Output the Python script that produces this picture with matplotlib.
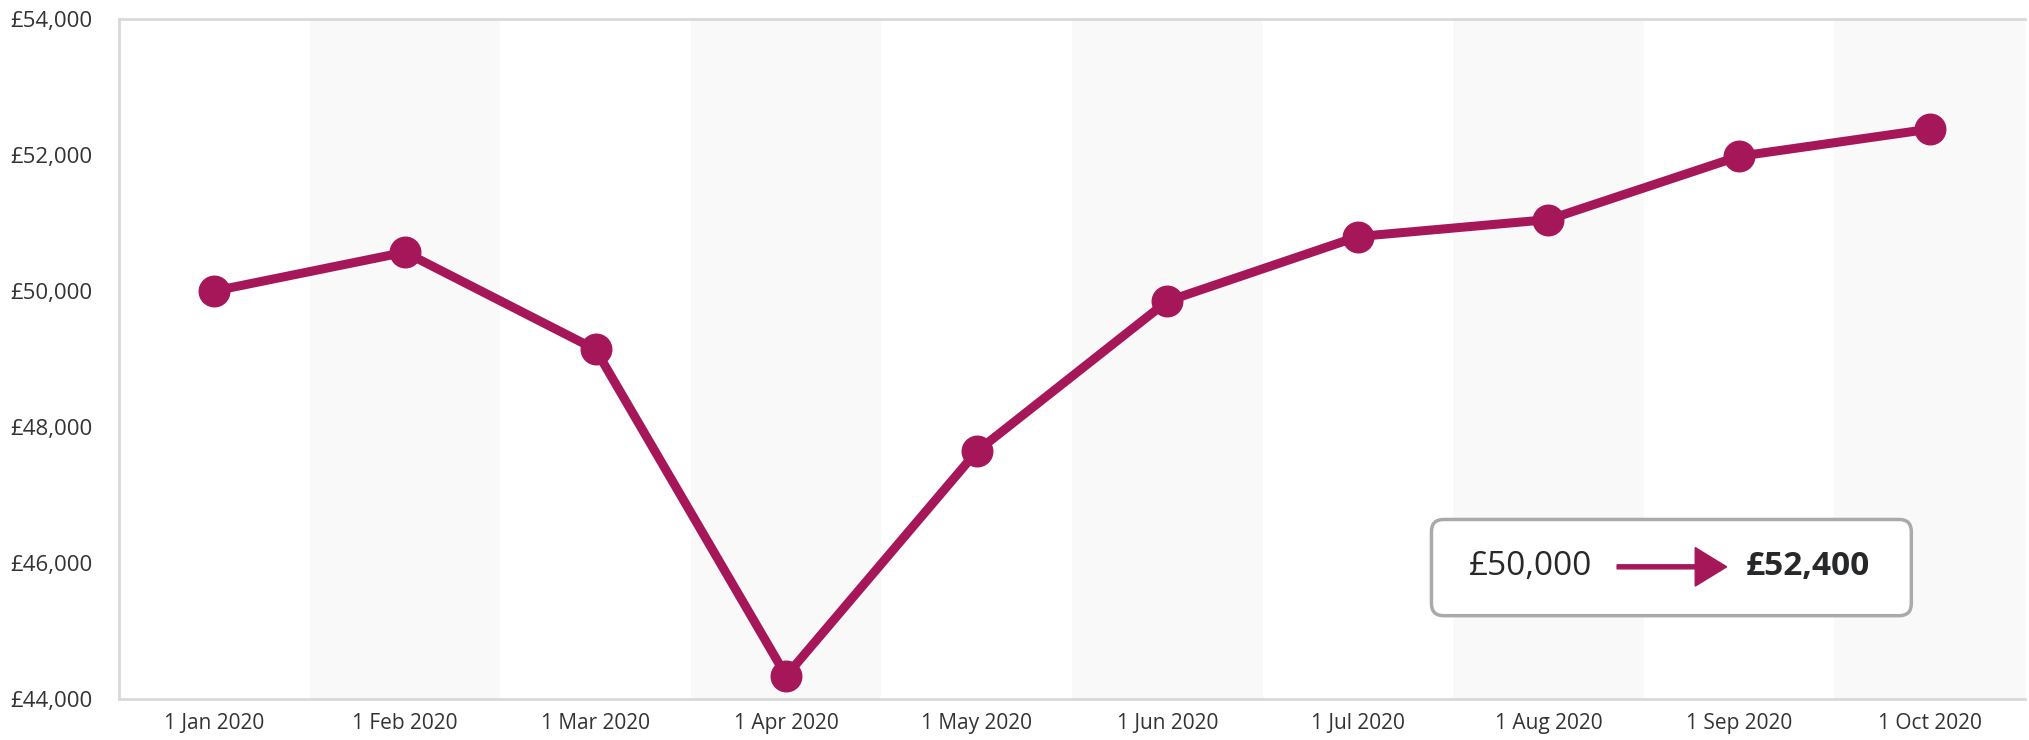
import numpy as np
import matplotlib.pyplot as plt
from matplotlib.patches import FancyBboxPatch, FancyArrow
from matplotlib.ticker import FuncFormatter

plt.rcParams['font.family'] = ['Open Sans', 'DejaVu Sans']

months = ['1 Jan 2020', '1 Feb 2020', '1 Mar 2020', '1 Apr 2020', '1 May 2020',
          '1 Jun 2020', '1 Jul 2020', '1 Aug 2020', '1 Sep 2020', '1 Oct 2020']
values = [50000, 50570, 49140, 44340, 47640, 49850, 50800, 51050, 51980, 52380]
start_label = '£50,000'
end_label = '£52,400'

line_color = '#A6175A'
text_color = '#333333'

fig = plt.figure(figsize=(20.29, 7.40), dpi=100)
ax = fig.add_axes([0.0587, 0.0554, 0.9393, 0.919])

x = np.arange(len(months))

# alternating light column bands
for i in x:
    if i % 2 == 1:
        ax.axvspan(i - 0.5, i + 0.5, color='#f9f9f9', lw=0, zorder=0)

ax.plot(x, values, color=line_color, lw=6.5, marker='o', markersize=22,
        solid_joinstyle='round', zorder=3)

ax.set_xlim(-0.5, len(months) - 0.5)
ax.set_ylim(44000, 54000)
ax.set_yticks(np.arange(44000, 54001, 2000))
ax.yaxis.set_major_formatter(FuncFormatter(lambda v, p: f'£{v:,.0f}'))
ax.set_xticks(x)
ax.set_xticklabels(months)
ax.tick_params(axis='x', length=0, labelsize=15, colors=text_color, pad=10)
ax.tick_params(axis='y', length=0, labelsize=16, colors=text_color, pad=19)

for side in ['left', 'top', 'bottom']:
    ax.spines[side].set_color('#d9d9d9')
    ax.spines[side].set_linewidth(2)
ax.spines['right'].set_visible(False)

# summary box
box = FancyBboxPatch((0.7055, 0.168), 0.2365, 0.130, transform=fig.transFigure,
                     boxstyle='round,pad=0,rounding_size=0.006',
                     facecolor='white', edgecolor='#aaaaaa', lw=2.5,
                     mutation_aspect=2.74, zorder=5)
fig.patches.append(box)
ty = 0.234
fig.text(0.724, ty, start_label, fontsize=24, color='#26282a', va='center',
         ha='left', zorder=7)
fig.text(0.9215, ty, end_label, fontsize=24, color='#26282a', fontweight='bold',
         va='center', ha='right', zorder=7)
arr = FancyArrow(0.797, ty, 0.054, 0, width=0.0055, head_width=0.052,
                 head_length=0.0155, length_includes_head=True,
                 color=line_color, transform=fig.transFigure, zorder=6)
fig.patches.append(arr)

plt.savefig('out.png', dpi=100)
